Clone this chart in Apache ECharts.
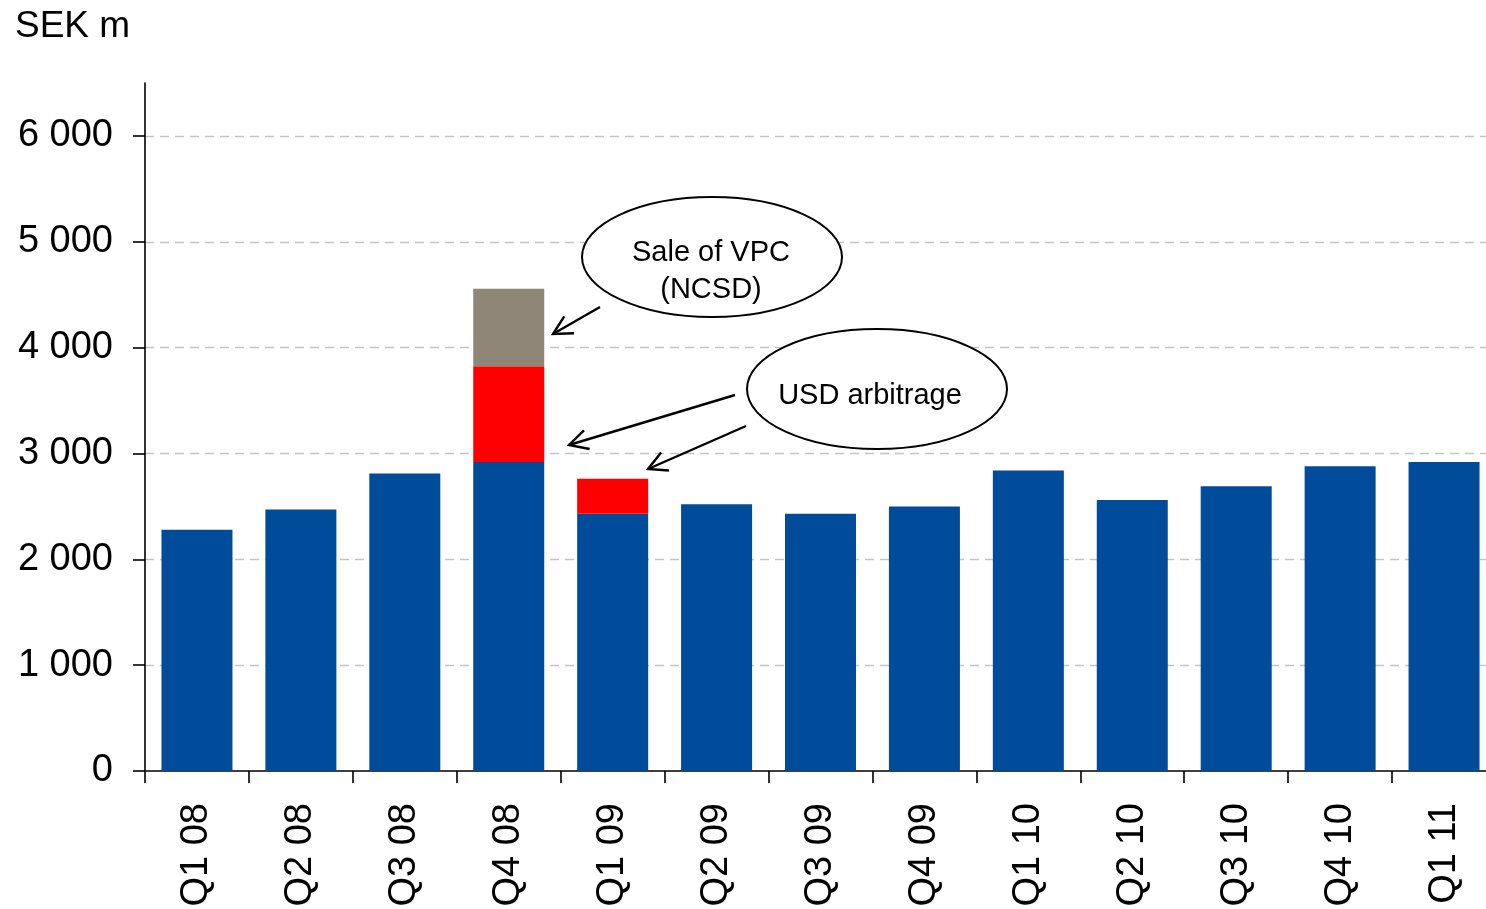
<!DOCTYPE html>
<html>
<head>
<meta charset="utf-8">
<script src="https://cdn.jsdelivr.net/npm/echarts@6/dist/echarts.min.js"></script>
<style>
  html, body { margin: 0; padding: 0; background: #ffffff; }
  #chart { width: 1486px; height: 909px; }
</style>
</head>
<body>
<div id="chart"></div>
<script>
// Quarterly result, SEK m
const quarters = ['Q1 08', 'Q2 08', 'Q3 08', 'Q4 08', 'Q1 09', 'Q2 09', 'Q3 09',
                  'Q4 09', 'Q1 10', 'Q2 10', 'Q3 10', 'Q4 10', 'Q1 11'];
const underlying = [2280, 2470, 2810, 2920, 2430, 2520, 2430, 2500, 2840, 2560, 2690, 2880, 2920];
const usdArbitrage = ['-', '-', '-', 905, 330, '-', '-', '-', '-', '-', '-', '-', '-'];
const saleOfVpc = ['-', '-', '-', 730, '-', '-', '-', '-', '-', '-', '-', '-', '-'];
const yTicks = [0, 1000, 2000, 3000, 4000, 5000, 6000];

const FONT = '"Liberation Sans", Arial, sans-serif';

function fmtThousands(v) {
  return String(v).replace(/\B(?=(\d{3})+(?!\d))/g, ' ');
}

// Open "V" arrow from (x0,y0) to tip (x1,y1)
function arrow(x0, y0, x1, y1) {
  const a = Math.atan2(y1 - y0, x1 - x0);
  const len = 21, spread = Math.PI / 6.5;
  const h1 = [x1 - len * Math.cos(a - spread), y1 - len * Math.sin(a - spread)];
  const h2 = [x1 - len * Math.cos(a + spread), y1 - len * Math.sin(a + spread)];
  const style = { stroke: '#000', lineWidth: 2.4, fill: null };
  return [
    { type: 'line', shape: { x1: x0, y1: y0, x2: x1, y2: y1 }, style: style, z: 100 },
    { type: 'polyline', shape: { points: [h1, [x1, y1], h2] }, style: style, z: 100 }
  ];
}

function callout(cx, cy, lines, textX, textY) {
  const els = [{
    type: 'ellipse', shape: { cx: cx, cy: cy, rx: 130, ry: 60 },
    style: { fill: '#fff', stroke: '#000', lineWidth: 2 }, z: 99
  }];
  const gap = 37;
  lines.forEach(function (t, i) {
    els.push({
      type: 'text', x: textX, y: textY + i * gap, z: 101,
      style: { text: t, font: '29px ' + FONT, fill: '#000', align: 'center', verticalAlign: 'middle' }
    });
  });
  return els;
}

const chart = echarts.init(document.getElementById('chart'), null, { renderer: 'canvas' });

const axisLineStyle = { color: '#000', width: 1.6 };

chart.setOption({
  animation: false,
  backgroundColor: '#ffffff',
  textStyle: { fontFamily: FONT },
  title: {
    text: 'SEK m', left: 10, top: 3,
    textStyle: { fontSize: 37, fontWeight: 'normal', color: '#000', fontFamily: FONT }
  },
  grid: {
    left: 145, width: 1351, top: 83, height: 688,
    containLabel: false, outerBoundsMode: 'none'
  },
  xAxis: {
    type: 'category',
    data: quarters,
    axisLine: { lineStyle: axisLineStyle },
    axisTick: { show: true, length: 12, lineStyle: axisLineStyle, alignWithLabel: false },
    axisLabel: { rotate: 90, margin: 32, fontSize: 38, color: '#000', fontFamily: FONT, interval: 0 },
    splitLine: { show: false }
  },
  yAxis: {
    type: 'value',
    min: 0, max: 6500, interval: 1000,
    axisLine: { show: true, lineStyle: axisLineStyle },
    axisTick: { show: true, length: 12, lineStyle: axisLineStyle, customValues: yTicks },
    axisLabel: {
      margin: 32, fontSize: 38, color: '#000', fontFamily: FONT,
      customValues: yTicks,
      formatter: fmtThousands
    },
    splitLine: { show: false }
  },
  series: [
    {
      name: 'Result', type: 'bar', stack: 'total', barWidth: 71,
      data: underlying, itemStyle: { color: '#004B9A' },
      markLine: {
        silent: true, symbol: 'none', animation: false,
        label: { show: false },
        lineStyle: { color: '#c4c4c4', type: [9, 6], width: 1.3 },
        data: yTicks.filter(function (v) { return v > 0; }).map(function (v) { return { yAxis: v }; }),
        z: 0
      },
      z: 2
    },
    {
      name: 'USD arbitrage', type: 'bar', stack: 'total', barWidth: 71,
      data: usdArbitrage, itemStyle: { color: '#FF0000' }, z: 2
    },
    {
      name: 'Sale of VPC (NCSD)', type: 'bar', stack: 'total', barWidth: 71,
      data: saleOfVpc, itemStyle: { color: '#8F8677' }, z: 2
    }
  ],
  graphic: [].concat(
    callout(712, 257, ['Sale of VPC', '(NCSD)'], 711, 253),
    arrow(600, 307, 553, 334),
    callout(877, 389, ['USD arbitrage'], 870, 396),
    arrow(735, 395, 569, 445),
    arrow(746, 426, 648, 469)
  )
});
</script>
</body>
</html>
